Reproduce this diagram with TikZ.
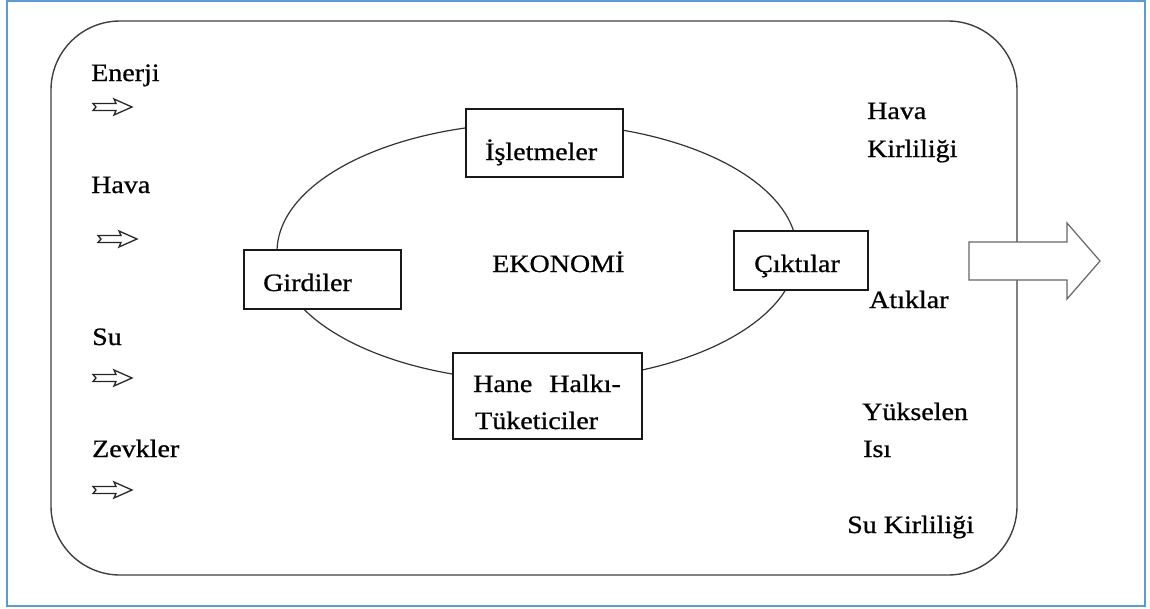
\documentclass[tikz,border=0pt]{standalone}
\usepackage{fontspec}
\setmainfont{Liberation Serif}[FakeStretch=1.12,FakeBold=0.8]
\begin{document}
\begin{tikzpicture}[x=1pt,y=-1pt,
  lbl/.style={anchor=base west,inner sep=0pt,font=\fontsize{25}{30}\selectfont},
  boxnode/.style={draw=black!90,line width=1.6pt,fill=white,rectangle,inner sep=0pt},
  frameline/.style={draw=black!75,line width=1.4pt},
  smallarrow/.pic={\draw[line width=1.3pt,draw=black!85,fill=white,line join=miter]
     (0,-3.5) -- (23,-3.5) -- (21,-8) -- (39,0) -- (21,8) -- (23,3.5) -- (0,3.5) -- (3,0) -- cycle;}
]
\useasboundingbox (0,0) rectangle (1150,608);
\fill[white] (0,0) rectangle (1150,608);
% outer blue frame
\draw[draw={rgb,255:red,91;green,155;blue,213},line width=2pt] (7,1) rectangle (1145,606);
% rounded environment box
\draw[frameline,rounded corners=69pt] (51,21) rectangle (1017,575);
% big output arrow
\draw[draw=black!60,line width=1.2pt,fill=white,line join=miter]
  (969,242) -- (1067,242) -- (1067,223) -- (1100,261) -- (1067,299) -- (1067,280) -- (969,280) -- cycle;
% economy ellipse
\draw[draw=black!80,line width=1.2pt] (537,252) ellipse [x radius=260pt, y radius=129pt];
% boxes on the ellipse
\node[boxnode,minimum width=157pt,minimum height=68pt] (isl) at (544.5,143) {};
\node[boxnode,minimum width=157pt,minimum height=59pt] (gir) at (322.5,279.5) {};
\node[boxnode,minimum width=134pt,minimum height=59pt] (cik) at (801,260.5) {};
\node[boxnode,minimum width=189pt,minimum height=86pt] (hane) at (547.5,396) {};
% box texts
\node[lbl] (tisl) at (485,160) {İşletmeler};
\node[lbl] (tgir) at (263,291) {Girdiler};
\node[lbl] (tcik) at (754,272) {Çıktılar};
\node[lbl] (thane1) at (473,392) {Hane\hspace{17pt}Halkı-};
\node[lbl] (thane2) at (475,429) {Tüketiciler};
\node[lbl] (eko) at (492,272) {EKONOMİ};
% inputs
\node[lbl] (enerji) at (91,81) {Enerji};
\node[lbl] (hava) at (91,193) {Hava};
\node[lbl] (su) at (92,345) {Su};
\node[lbl] (zevk) at (92,457) {Zevkler};
\pic at (93,107) {smallarrow};
\pic at (98,239) {smallarrow};
\pic at (93,378) {smallarrow};
\pic at (93,490) {smallarrow};
% outputs
\node[lbl] (hk1) at (867,119) {Hava};
\node[lbl] (hk2) at (867,157) {Kirliliği};
\node[lbl] (atik) at (869,308) {Atıklar};
\node[lbl] (yuk1) at (862,420) {Yükselen};
\node[lbl] (yuk2) at (863,457) {Isı};
\node[lbl] (suk) at (847,533) {Su Kirliliği};
\end{tikzpicture}
\end{document}
